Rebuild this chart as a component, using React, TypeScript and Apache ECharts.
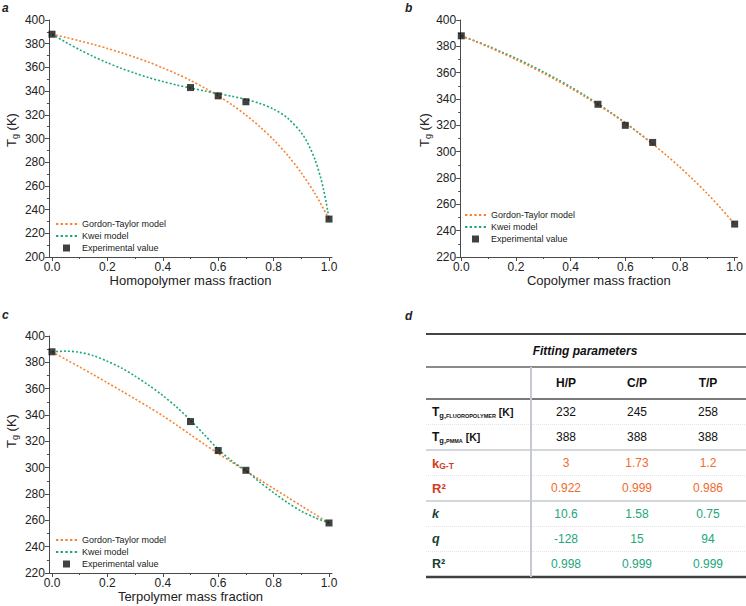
import React, { useEffect, useRef } from 'react';
import * as echarts from 'echarts';

const FONT = '"Liberation Sans", Arial, Helvetica, sans-serif';
const ORANGE = '#F5832F';
const GREEN = '#1CA77E';
const INK = '#222222';
const AXIS = '#4a4a4a';

// ---------- data ----------
const seriesNames = ['Gordon-Taylor model', 'Kwei model', 'Experimental value'];
const xTickValues = [0, 0.2, 0.4, 0.6, 0.8, 1.0];
const xMinorValues = [0.1, 0.3, 0.5, 0.7, 0.9];

const curveX = [0, 0.05, 0.1, 0.15, 0.2, 0.25, 0.3, 0.35, 0.4, 0.45, 0.5, 0.55, 0.6, 0.65, 0.7, 0.75, 0.8, 0.85, 0.9, 0.95, 1.0];

// panel a (homopolymer)
const aGordonTaylor = [388, 385.3, 382.4, 379.3, 376.0, 372.4, 368.5, 364.3, 359.6, 354.6, 349.0, 342.8, 336.0, 328.4, 319.8, 310.0, 298.9, 286.0, 271.0, 253.3, 232];
const aKweiX = [0, 0.05, 0.1, 0.15, 0.2, 0.25, 0.3, 0.35, 0.4, 0.45, 0.5, 0.55, 0.6, 0.65, 0.7, 0.75, 0.8, 0.85, 0.9, 0.925, 0.95, 0.97, 0.98, 0.99, 0.995, 1.0];
const aKwei = [388, 381.2, 374.9, 369.1, 363.9, 359.2, 355.1, 351.3, 348.1, 345.1, 342.6, 340.2, 337.9, 335.6, 333.0, 329.6, 324.8, 317.3, 304.9, 295.2, 281.8, 266.8, 257.2, 245.8, 239.3, 232];

// panel b (copolymer)
const bGordonTaylor = [388, 383.8, 379.4, 374.8, 369.9, 364.9, 359.6, 354.1, 348.2, 342.1, 335.6, 328.8, 321.6, 314.0, 305.9, 297.3, 288.2, 278.4, 268.1, 256.9, 245];
const bKweiX = [0, 0.05, 0.1, 0.15, 0.2, 0.25, 0.3, 0.35, 0.4, 0.45, 0.5, 0.55, 0.6, 0.65, 0.7];
const bKwei = [388, 384.1, 380.0, 375.5, 370.9, 365.9, 360.6, 355.1, 349.2, 342.9, 336.3, 329.3, 322.0, 314.1, 305.9];

// panel c (terpolymer)
const cGordonTaylor = [388, 382.2, 376.4, 370.5, 364.5, 358.4, 352.2, 345.9, 339.4, 332.3, 325.0, 317.8, 310.8, 304.0, 297.5, 290.8, 284.2, 277.6, 271.0, 264.5, 258];
const cKwei = [388, 388.5, 387.6, 385.0, 380.8, 375.8, 369.5, 362.5, 354.8, 346.0, 336.0, 325.0, 314.0, 305.0, 297.8, 289.0, 281.0, 273.5, 267.0, 262.0, 258];

// experimental points
const expX = [0, 0.5, 0.6, 0.7, 1.0];
const aExperimental = [388, 343, 336, 331, 232];
const bExperimental = [388, 336, 320, 307, 245];
const cExperimental = [388, 335, 313, 298, 258];

// table d
const tableColumns = ['H/P', 'C/P', 'T/P'];
const tgFluoropolymer = ['232', '245', '258'];
const tgPmma = ['388', '388', '388'];
const kGordonTaylor = ['3', '1.73', '1.2'];
const r2GordonTaylor = ['0.922', '0.999', '0.986'];
const kKwei = ['10.6', '1.58', '0.75'];
const qKwei = ['-128', '15', '94'];
const r2Kwei = ['0.998', '0.999', '0.999'];

const pairs = (xs: number[], ys: number[]) => ys.map((y, i) => [xs[i], y]);

// legend icons: a row of short dashes (dotted line sample) and a square
const DOTTED_ICON = 'path://M0 0h2.2v1.7h-2.2z M4.4 0h2.2v1.7h-2.2z M8.8 0h2.2v1.7h-2.2z M13.2 0h2.2v1.7h-2.2z M17.6 0h2.2v1.7h-2.2z';
const SQUARE_ICON = 'path://M0 0h10v10h-10z';

// ---------- layout ----------
const panels = [
  { left: 48.95, top: 20, width: 283.1, height: 237, xmin: -0.011, xmax: 1.011, ymin: 200, ymax: 400, title: 'Homopolymer mass fraction', legendLeft: 56, legendTop: 218.5,
    gt: aGordonTaylor, kx: aKweiX, kw: aKwei, ex: aExperimental, yTitle: [11.7, 130] },
  { left: 460.2, top: 20, width: 280.6, height: 237, xmin: -0.004, xmax: 1.01, ymin: 220, ymax: 400, title: 'Copolymer mass fraction', legendLeft: 465, legendTop: 209.5,
    gt: bGordonTaylor, kx: bKweiX, kw: bKwei, ex: bExperimental, yTitle: [424.7, 130] },
  { left: 48.95, top: 336, width: 283.1, height: 237, xmin: -0.011, xmax: 1.011, ymin: 220, ymax: 400, title: 'Terpolymer mass fraction', legendLeft: 56, legendTop: 534.5,
    gt: cGordonTaylor, kx: curveX, kw: cKwei, ex: cExperimental, yTitle: [11.7, 431] },
];

function buildOption() {
  const grid: any[] = [];
  const xAxis: any[] = [];
  const yAxis: any[] = [];
  const series: any[] = [];
  const legend: any[] = [];

  panels.forEach((p, i) => {
    grid.push({ left: p.left, top: p.top, width: p.width, height: p.height, containLabel: false });
    xAxis.push({
      type: 'value', gridIndex: i, position: 'bottom', min: p.xmin, max: p.xmax,
      axisLine: { show: true, onZero: false, lineStyle: { color: AXIS, width: 1 } },
      axisTick: { show: true, customValues: xTickValues, length: 4, lineStyle: { color: AXIS } },
      axisLabel: { show: true, customValues: xTickValues, formatter: (v: number) => v.toFixed(1), fontSize: 12, margin: 4, color: INK, fontFamily: FONT },
      splitLine: { show: false },
      name: p.title, nameLocation: 'middle', nameGap: 17,
      nameTextStyle: { fontSize: 13, color: INK, fontFamily: FONT },
    });
    yAxis.push({
      type: 'value', gridIndex: i, min: p.ymin, max: p.ymax, interval: 20,
      axisLine: { show: true, onZero: false, lineStyle: { color: AXIS, width: 1 } },
      axisTick: { show: true, length: 4, lineStyle: { color: AXIS } },
      minorTick: { show: true, splitNumber: 2, length: 2, lineStyle: { color: AXIS } },
      axisLabel: { fontSize: 12, margin: 4, color: INK, fontFamily: FONT },
      splitLine: { show: false },
      minorSplitLine: { show: false },
    });
    series.push({
      type: 'line', name: seriesNames[0], xAxisIndex: i, yAxisIndex: i,
      data: pairs(curveX, p.gt), symbol: 'none', showSymbol: false, smooth: 0.3,
      lineStyle: { color: ORANGE, width: 1.6, type: [2, 2] }, itemStyle: { color: ORANGE }, z: 3,
    });
    series.push({
      type: 'line', name: seriesNames[1], xAxisIndex: i, yAxisIndex: i,
      data: pairs(p.kx, p.kw), symbol: 'none', showSymbol: false, smooth: 0.3,
      lineStyle: { color: GREEN, width: 1.6, type: [2, 2] }, itemStyle: { color: GREEN }, z: i === 1 ? 2 : 3,
    });
    series.push({
      type: 'scatter', name: seriesNames[2], xAxisIndex: i, yAxisIndex: i,
      data: pairs(expX, p.ex), symbol: 'rect', symbolSize: 7,
      itemStyle: { color: '#111111' }, z: 5,
    });
    legend.push({
      orient: 'vertical', left: p.legendLeft, top: p.legendTop, padding: 0,
      itemWidth: 21, itemHeight: 7, itemGap: 1, selectedMode: false,
      data: [
        { name: seriesNames[0], icon: DOTTED_ICON, itemStyle: { color: ORANGE } },
        { name: seriesNames[1], icon: DOTTED_ICON, itemStyle: { color: GREEN } },
        { name: seriesNames[2], icon: SQUARE_ICON, itemStyle: { color: '#111111' } },
      ],
      symbolKeepAspect: true,
      textStyle: { fontSize: 9, color: INK, fontFamily: FONT, lineHeight: 11 },
    });
  });

  // minor x ticks overlay axes
  panels.forEach((p, i) => {
    xAxis.push({
      type: 'value', gridIndex: i, position: 'bottom', min: p.xmin, max: p.xmax,
      axisLine: { show: false, onZero: false },
      axisTick: { show: true, customValues: xMinorValues, length: 2, lineStyle: { color: AXIS } },
      axisLabel: { show: false },
      splitLine: { show: false },
    });
  });

  const g: any[] = [];
  const text = (x: number, y: number, t: string, style: any) => ({
    type: 'text', x, y, silent: true, style: { text: t, fontFamily: FONT, ...style },
  });
  const hline = (y: number, x1: number, x2: number, stroke: string, lineWidth: number, lineDash?: number[]) => ({
    type: 'line', silent: true, shape: { x1, y1: y, x2, y2: y }, style: { stroke, lineWidth, lineDash },
  });

  // panel letters
  const letterStyle = { fontSize: 12, fontWeight: 'bold', fontStyle: 'italic', fill: INK, verticalAlign: 'middle', align: 'left' };
  g.push(text(2, 7.5, 'a', letterStyle));
  g.push(text(405, 7.5, 'b', letterStyle));
  g.push(text(2, 315, 'c', letterStyle));
  g.push(text(405, 315.5, 'd', letterStyle));

  // y titles
  const yRich = {
    t: { fontSize: 13, fill: INK, fontFamily: FONT, lineHeight: 16, verticalAlign: 'middle' },
    s: { fontSize: 9, fill: INK, fontFamily: FONT, lineHeight: 6, verticalAlign: 'bottom' },
  };
  panels.forEach((p) => {
    g.push({
      type: 'text', x: p.yTitle[0], y: p.yTitle[1], rotation: Math.PI / 2, silent: true,
      style: { text: '{t|T}{s|g}{t| (K)}', rich: yRich, align: 'center', verticalAlign: 'middle', fontFamily: FONT },
    });
  });

  // table
  const tLeft = 426;
  const tRight = 746;
  const colX = [566, 637, 708];
  const labelX = 432;
  g.push(hline(334, tLeft, tRight, '#454545', 2));
  g.push(text(585, 351, 'Fitting parameters', { fontSize: 12, fontWeight: 'bold', fontStyle: 'italic', fill: '#111', align: 'center', verticalAlign: 'middle' }));
  g.push(hline(367, tLeft, tRight, '#8a8a8a', 2));
  tableColumns.forEach((c, j) => g.push(text(colX[j], 383, c, { fontSize: 12, fontWeight: 'bold', fill: '#111', align: 'center', verticalAlign: 'middle' })));
  g.push(hline(399, tLeft, tRight, '#7a7a7a', 2));
  g.push(hline(450, tLeft, tRight, '#c4cad0', 1.5));
  g.push(hline(501, tLeft, tRight, '#c4cad0', 1.5));
  [424.5, 475.5, 526.5, 551.5].forEach((y) => g.push(hline(y, tLeft, tRight, '#e4e4e4', 1, [1, 1])));
  g.push(hline(577, tLeft, tRight, '#404040', 2.5));
  g.push({ type: 'line', silent: true, shape: { x1: 531, y1: 367, x2: 531, y2: 577 }, style: { stroke: '#c4cad0', lineWidth: 2 } });

  const BLACK = '#111111';
  const RED_LABEL = '#D23C1E';
  const RED_VALUE = '#F26A2E';
  const GREEN_LABEL = '#173F33';
  const GREEN_VALUE = '#22A67B';

  const labelRich = {
    b: { fontSize: 12, fontWeight: 'bold', fill: BLACK, fontFamily: FONT, lineHeight: 14, verticalAlign: 'middle' },
    bk: { fontSize: 10.5, fontWeight: 'bold', fill: BLACK, fontFamily: FONT, lineHeight: 14, verticalAlign: 'middle' },
    s: { fontSize: 7.5, fontWeight: 'bold', fill: BLACK, fontFamily: FONT, lineHeight: 8, verticalAlign: 'bottom' },
    xs: { fontSize: 5.5, fontWeight: 'bold', fill: BLACK, fontFamily: FONT, lineHeight: 6, verticalAlign: 'bottom' },
    rb: { fontSize: 13, fontWeight: 'bold', fill: RED_LABEL, fontFamily: FONT, lineHeight: 14, verticalAlign: 'middle' },
    rs: { fontSize: 8.5, fontWeight: 'bold', fill: RED_LABEL, fontFamily: FONT, lineHeight: 8, verticalAlign: 'bottom' },
    gi: { fontSize: 12.5, fontWeight: 'bold', fontStyle: 'italic', fill: GREEN_LABEL, fontFamily: FONT, lineHeight: 14, verticalAlign: 'middle' },
    gb: { fontSize: 12.5, fontWeight: 'bold', fill: GREEN_LABEL, fontFamily: FONT, lineHeight: 14, verticalAlign: 'middle' },
  };

  const rows = [
    { y: 412, label: '{b|T}{s|g,}{xs|FLUOROPOLYMER}{bk| [K]}', values: tgFluoropolymer, color: BLACK },
    { y: 437, label: '{b|T}{s|g,}{xs|PMMA}{bk| [K]}', values: tgPmma, color: BLACK },
    { y: 463, label: '{rb|k}{rs|G-T}', values: kGordonTaylor, color: RED_VALUE },
    { y: 488, label: '{rb|R²}', values: r2GordonTaylor, color: RED_VALUE },
    { y: 514, label: '{gi|k}', values: kKwei, color: GREEN_VALUE },
    { y: 539, label: '{gi|q}', values: qKwei, color: GREEN_VALUE },
    { y: 564, label: '{gb|R²}', values: r2Kwei, color: GREEN_VALUE },
  ];
  rows.forEach((r) => {
    g.push({
      type: 'text', x: labelX, y: r.y, silent: true,
      style: { text: r.label, rich: labelRich, align: 'left', verticalAlign: 'middle', fontFamily: FONT },
    });
    r.values.forEach((v, j) => g.push(text(colX[j], r.y, v, { fontSize: 12, fill: r.color, align: 'center', verticalAlign: 'middle' })));
  });

  return {
    animation: false,
    backgroundColor: '#ffffff',
    textStyle: { fontFamily: FONT },
    grid, xAxis, yAxis, series, legend,
    graphic: { elements: g },
  };
}

export default function App() {
  const ref = useRef<HTMLDivElement>(null);
  useEffect(() => {
    if (!ref.current) return;
    const chart = echarts.init(ref.current, undefined, { renderer: 'svg' });
    chart.setOption(buildOption() as any);
    return () => chart.dispose();
  }, []);
  return <div ref={ref} style={{ position: 'absolute', left: 0, top: 0, width: 746, height: 606 }} />;
}
